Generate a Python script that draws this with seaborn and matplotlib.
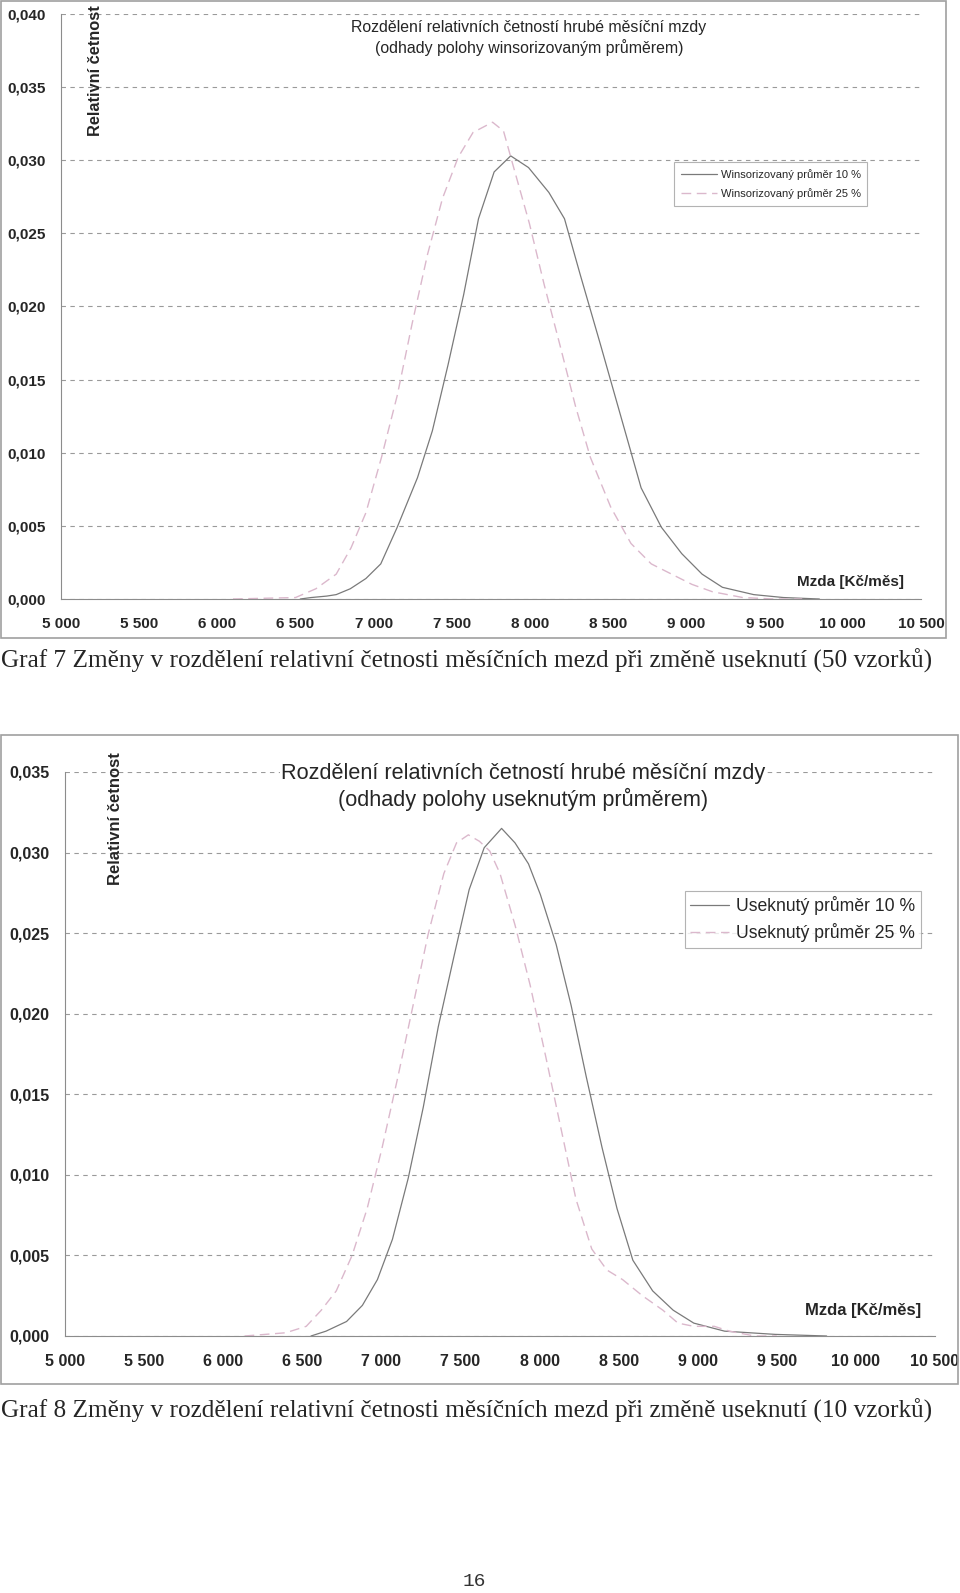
import matplotlib
matplotlib.use("Agg")
import matplotlib.pyplot as plt
from matplotlib.patches import Rectangle
from matplotlib.ticker import FuncFormatter, MultipleLocator
import seaborn as sns
import pandas as pd

# Graf 7 - winsorizovany prumer
win10_x = [6530, 6600, 6700, 6760, 6850, 6950, 7045, 7150, 7280, 7375, 7475, 7575, 7670, 7770,
           7876, 7990, 8120, 8220, 8320, 8450, 8580, 8710, 8840, 8970, 9100, 9230, 9430, 9620, 9850]
win10_y = [0.0, 0.0001, 0.0002, 0.0003, 0.0007, 0.0014, 0.0024, 0.0049, 0.0083, 0.0115, 0.0160, 0.0208,
           0.0260, 0.0292, 0.0303, 0.0295, 0.0278, 0.0260, 0.0222, 0.0174, 0.0125, 0.0076, 0.0049,
           0.0031, 0.0017, 0.0008, 0.0003, 0.0001, 0.0]
win25_x = [6100, 6300, 6500, 6630, 6760, 6855, 6950, 7050, 7150, 7245, 7345, 7440, 7540, 7635, 7760,
           7830, 7895, 7995, 8090, 8190, 8290, 8385, 8515, 8645, 8775, 8905, 9035, 9165, 9360, 9560, 9740]
win25_y = [0.0, 0.00005, 0.0001, 0.0007, 0.0017, 0.0035, 0.0059, 0.0097, 0.0139, 0.0188, 0.0236, 0.0274,
           0.0302, 0.0319, 0.0326, 0.0320, 0.0295, 0.0257, 0.0215, 0.0174, 0.0132, 0.0097, 0.0063,
           0.0038, 0.0024, 0.0017, 0.0010, 0.0005, 0.0001, 0.0, 0.0]

# Graf 8 - useknuty prumer
usk10_x = [6555, 6650, 6780, 6880, 6975, 7070, 7170, 7265, 7360, 7460, 7555, 7650, 7760, 7845, 7930,
           8005, 8105, 8200, 8295, 8395, 8490, 8590, 8715, 8845, 8975, 9170, 9490, 9815]
usk10_y = [0.0, 0.0003, 0.0009, 0.0019, 0.0035, 0.0060, 0.0098, 0.0142, 0.0192, 0.0236, 0.0277, 0.0303,
           0.0315, 0.0306, 0.0293, 0.0274, 0.0243, 0.0205, 0.0161, 0.0117, 0.0079, 0.0047, 0.0028,
           0.0016, 0.0008, 0.0003, 0.0001, 0.0]
usk25_x = [6135, 6395, 6525, 6620, 6715, 6815, 6910, 7005, 7105, 7200, 7295, 7395, 7475, 7550, 7620,
           7685, 7750, 7845, 7940, 8040, 8135, 8230, 8330, 8425, 8525, 8650, 8780, 8875, 8975, 9105,
           9200, 9360, 9500]
usk25_y = [0.0, 0.0002, 0.0006, 0.0016, 0.0028, 0.0050, 0.0079, 0.0117, 0.0161, 0.0205, 0.0249, 0.0287,
           0.0306, 0.0311, 0.0307, 0.0301, 0.0287, 0.0255, 0.0218, 0.0173, 0.0129, 0.0085, 0.0054,
           0.0041, 0.0035, 0.0025, 0.0016, 0.0008, 0.0006, 0.0006, 0.0003, 0.0, 0.0]

W, H = 960, 1593
SOLID = "#7a7a7a"
DASHED = "#dbb8cc"
GRID = "#9a9a9a"

sns.set_style("white")
plt.rcParams["font.family"] = ["Liberation Sans", "DejaVu Sans"]


def fx(x):
    return x / W


def fy(y):
    return 1 - y / H


def style_axes(ax, ymax, tick_fs):
    ax.set_xlim(5000, 10500)
    ax.set_ylim(0, ymax)
    ax.xaxis.set_major_locator(MultipleLocator(500))
    ax.yaxis.set_major_locator(MultipleLocator(0.005))
    ax.xaxis.set_major_formatter(FuncFormatter(lambda v, p: f"{int(round(v)):,}".replace(",", " ")))
    ax.yaxis.set_major_formatter(FuncFormatter(lambda v, p: f"{v:.3f}".replace(".", ",")))
    ax.grid(axis="y", color=GRID, linestyle=(0, (4, 4)), linewidth=0.8)
    ax.grid(axis="x", visible=False)
    for s in ["top", "right"]:
        ax.spines[s].set_visible(False)
    for s in ["left", "bottom"]:
        ax.spines[s].set_color("#8c8c8c")
        ax.spines[s].set_linewidth(0.8)
    ax.tick_params(axis="both", direction="out", length=4, width=0.8, color="#8c8c8c")
    ax.tick_params(axis="x", pad=9, labelsize=tick_fs)
    ax.tick_params(axis="y", pad=7, labelsize=tick_fs)
    for lab in ax.get_xticklabels() + ax.get_yticklabels():
        lab.set_fontweight("bold")
    ax.set_xlabel("")
    ax.set_ylabel("")
    ax.patch.set_alpha(0)


fig = plt.figure(figsize=(W / 100, H / 100), dpi=100)
fig.patch.set_facecolor("white")

# frames around both charts
fig.patches.append(Rectangle((fx(1), fy(638)), (946 - 1) / W, (638 - 1) / H, transform=fig.transFigure,
                             fill=False, edgecolor="#a0a0a0", linewidth=1.2))
fig.patches.append(Rectangle((fx(1), fy(1384)), (958 - 1) / W, (1384 - 735) / H, transform=fig.transFigure,
                             fill=False, edgecolor="#a0a0a0", linewidth=1.2))

# ---- Graf 7 ----
ax1 = fig.add_axes([fx(61), fy(599), (921 - 61) / W, (599 - 14) / H])
sns.lineplot(x=win10_x, y=win10_y, ax=ax1, color=SOLID, linewidth=0.9,
             label="Winsorizovaný průměr 10 %")
sns.lineplot(x=win25_x, y=win25_y, ax=ax1, color=DASHED, linewidth=1.0, linestyle=(0, (7, 4)),
             label="Winsorizovaný průměr 25 %")
style_axes(ax1, 0.040, 11)
leg1 = ax1.legend(loc="upper left", bbox_to_anchor=(fx(674), fy(162)), bbox_transform=fig.transFigure,
                  borderaxespad=0, fontsize=8, frameon=True, fancybox=False, edgecolor="#a0a0a0",
                  handlelength=3.3, borderpad=0.6, labelspacing=0.8, handletextpad=0.3)
leg1.get_frame().set_linewidth(0.8)

fig.text(fx(529), fy(38), "Rozdělení relativních četností hrubé měsíční mzdy\n"
         "(odhady polohy winsorizovaným průměrem)", ha="center", va="center",
         fontsize=11.4, linespacing=1.3)
fig.text(fx(95), fy(5), "Relativní četnost", rotation=90, ha="center", va="top",
         fontsize=11.8, fontweight="bold")
fig.text(fx(904), fy(582), "Mzda [Kč/měs]", ha="right", va="center", fontsize=11, fontweight="bold")
fig.text(fx(1), fy(661), "Graf 7 Změny v rozdělení relativní četnosti měsíčních mezd při změně useknutí (50 vzorků)",
         ha="left", va="center", fontsize=18.2, family=["Liberation Serif", "DejaVu Serif"])

# ---- Graf 8 ----
ax2 = fig.add_axes([fx(65), fy(1336), (935 - 65) / W, (1336 - 772) / H])
sns.lineplot(x=usk10_x, y=usk10_y, ax=ax2, color=SOLID, linewidth=0.9,
             label="Useknutý průměr 10 %")
sns.lineplot(x=usk25_x, y=usk25_y, ax=ax2, color=DASHED, linewidth=1.0, linestyle=(0, (7, 4)),
             label="Useknutý průměr 25 %")
style_axes(ax2, 0.035, 11.5)
leg2 = ax2.legend(loc="upper left", bbox_to_anchor=(fx(685), fy(891)), bbox_transform=fig.transFigure,
                  borderaxespad=0, fontsize=12.7, frameon=True, fancybox=False, edgecolor="#a0a0a0",
                  handlelength=2.2, borderpad=0.3, labelspacing=0.45, handletextpad=0.4)
leg2.get_frame().set_linewidth(0.8)

fig.text(fx(523), fy(787), "Rozdělení relativních četností hrubé měsíční mzdy\n"
         "(odhady polohy useknutým průměrem)", ha="center", va="center", fontsize=15.6,
         linespacing=1.2, bbox=dict(facecolor="white", edgecolor="none", pad=1))
fig.text(fx(115), fy(752), "Relativní četnost", rotation=90, ha="center", va="top",
         fontsize=12, fontweight="bold")
fig.text(fx(921), fy(1311), "Mzda [Kč/měs]", ha="right", va="center", fontsize=12, fontweight="bold")
fig.text(fx(1), fy(1411), "Graf 8 Změny v rozdělení relativní četnosti měsíčních mezd při změně useknutí (10 vzorků)",
         ha="left", va="center", fontsize=18.2, family=["Liberation Serif", "DejaVu Serif"])

fig.text(fx(474), fy(1582), "16", ha="center", va="center", fontsize=14, color="#333333",
         family=["Liberation Mono", "DejaVu Sans Mono"])

fig.savefig("out.png", dpi=100)
